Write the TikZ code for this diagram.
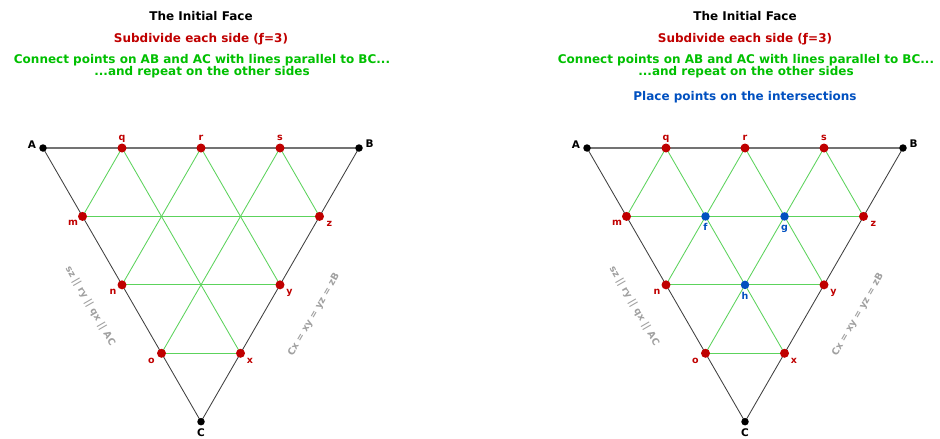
\documentclass[tikz,border=0pt]{standalone}
\usepackage{fontspec}
\setmainfont{DejaVu Sans}
\usetikzlibrary{calc}
\definecolor{dred}{HTML}{C00000}
\definecolor{tgreen}{HTML}{00C000}
\definecolor{lgreen}{HTML}{5CD35C}
\definecolor{dblue}{HTML}{0050C0}
\definecolor{lgray}{HTML}{A0A0A0}
\begin{document}
\begin{tikzpicture}[x=1pt,y=-1pt,
  edge/.style={draw=black!75, line width=0.85pt},
  topedge/.style={draw=black!55, line width=1.3pt},
  gridline/.style={draw=lgreen, line width=0.85pt},
  blackdot/.style={circle, fill=black, inner sep=0pt, minimum size=7.5pt},
  reddot/.style={circle, fill=dred, inner sep=0pt, minimum size=9pt},
  bluedot/.style={circle, fill=dblue, inner sep=0pt, minimum size=8.5pt},
  lbl/.style={font=\fontsize{9.5}{10}\selectfont\bfseries, text=dred, inner sep=0pt, anchor=base},
  vlbl/.style={lbl, text=black, font=\fontsize{10.5}{11}\selectfont\bfseries},
  blbl/.style={lbl, text=dblue},
  ttl/.style={font=\fontsize{12}{12}\selectfont\bfseries, inner sep=0pt, anchor=base},
  gtext/.style={font=\fontsize{9.5}{10}\selectfont\bfseries, text=lgray, inner sep=0pt}
]
\useasboundingbox (0,0) rectangle (940,439);
\fill[white] (0,0) rectangle (940,439);

\foreach \p/\dx in {L/0,R/544}{
\begin{scope}[xshift=\dx pt]
  \node[ttl] (\p-t1) at (201,20) {The Initial Face};
  \node[ttl, text=dred] (\p-t2) at (201,42) {Subdivide each side (ƒ=3)};
  \node[ttl, text=tgreen] (\p-t3) at (202,63) {Connect points on AB and AC with lines parallel to BC...};
  \node[ttl, text=tgreen] (\p-t4) at (202,75) {...and repeat on the other sides};
  \coordinate (\p-A) at (43,148);
  \coordinate (\p-B) at (359,148);
  \coordinate (\p-C) at (201,421.7);
  \coordinate (\p-q) at ($(\p-A)!0.25!(\p-B)$);
  \coordinate (\p-r) at ($(\p-A)!0.5!(\p-B)$);
  \coordinate (\p-s) at ($(\p-A)!0.75!(\p-B)$);
  \coordinate (\p-m) at ($(\p-A)!0.25!(\p-C)$);
  \coordinate (\p-n) at ($(\p-A)!0.5!(\p-C)$);
  \coordinate (\p-o) at ($(\p-A)!0.75!(\p-C)$);
  \coordinate (\p-z) at ($(\p-B)!0.25!(\p-C)$);
  \coordinate (\p-y) at ($(\p-B)!0.5!(\p-C)$);
  \coordinate (\p-x) at ($(\p-B)!0.75!(\p-C)$);
  % green subdivision lines
  \draw[gridline] (\p-q) -- (\p-m);
  \draw[gridline] (\p-r) -- (\p-n);
  \draw[gridline] (\p-s) -- (\p-o);
  \draw[gridline] (\p-m) -- (\p-z);
  \draw[gridline] (\p-n) -- (\p-y);
  \draw[gridline] (\p-o) -- (\p-x);
  \draw[gridline] (\p-s) -- (\p-z);
  \draw[gridline] (\p-r) -- (\p-y);
  \draw[gridline] (\p-q) -- (\p-x);
  % triangle
  \draw[edge] (\p-A) -- (\p-C) -- (\p-B);
  \draw[topedge] (\p-A) -- (\p-B);
  % dots
  \node[blackdot] (\p-Ad) at (\p-A) {};
  \node[blackdot] (\p-Bd) at (\p-B) {};
  \node[blackdot] (\p-Cd) at (\p-C) {};
  \foreach \v in {q,r,s,m,n,o,z,y,x}{
    \node[reddot] (\p-\v d) at (\p-\v) {};
  }
  % labels
  \node[vlbl] (\p-Al) at ($(\p-A)+(-11,0)$) {A};
  \node[vlbl] (\p-Bl) at ($(\p-B)+(10.5,-0.5)$) {B};
  \node[vlbl] (\p-Cl) at ($(\p-C)+(0,15)$) {C};
  \node[lbl] (\p-ql) at ($(\p-q)+(0,-8)$) {q};
  \node[lbl] (\p-rl) at ($(\p-r)+(0,-8)$) {r};
  \node[lbl] (\p-sl) at ($(\p-s)+(0,-8)$) {s};
  \node[lbl] (\p-ml) at ($(\p-m)+(-9.5,9.5)$) {m};
  \node[lbl] (\p-nl) at ($(\p-n)+(-9,10)$) {n};
  \node[lbl] (\p-ol) at ($(\p-o)+(-10,10)$) {o};
  \node[lbl] (\p-zl) at ($(\p-z)+(10,10)$) {z};
  \node[lbl] (\p-yl) at ($(\p-y)+(9.5,10)$) {y};
  \node[lbl] (\p-xl) at ($(\p-x)+(9.5,10)$) {x};
  % side notes
  \node[gtext, rotate=-60] (\p-gl) at (90,306) {sz || ry || qx || AC};
  \node[gtext, rotate=60] (\p-gr) at (314,315) {Cx = xy = yz = zB};
\end{scope}
}
% intersections on the right panel
\node[ttl, text=dblue] (t5) at (745,100) {Place points on the intersections};
\coordinate (R-f) at ($(R-m)!1/3!(R-z)$);
\coordinate (R-g) at ($(R-m)!2/3!(R-z)$);
\coordinate (R-h) at ($(R-n)!0.5!(R-y)$);
\node[bluedot] (R-fd) at (R-f) {};
\node[bluedot] (R-gd) at (R-g) {};
\node[bluedot] (R-hd) at (R-h) {};
\node[blbl] (R-fl) at ($(R-f)+(0,14.5)$) {f};
\node[blbl] (R-gl2) at ($(R-g)+(0,14.5)$) {g};
\node[blbl] (R-hl) at ($(R-h)+(0,14.5)$) {h};
\end{tikzpicture}
\end{document}
